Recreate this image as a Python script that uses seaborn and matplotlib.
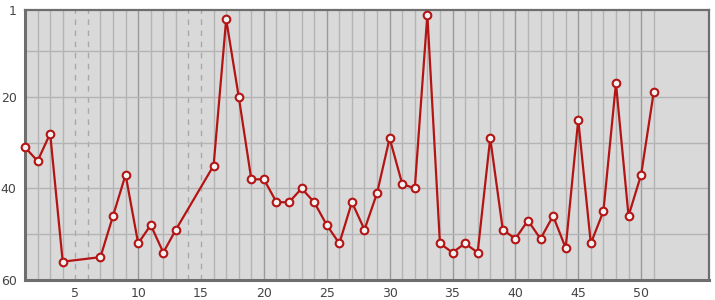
import matplotlib
matplotlib.use("Agg")
import matplotlib.pyplot as plt
import seaborn as sns
import pandas as pd
import numpy as np

# --- data ---
rounds = [1, 2, 3, 4, 7, 8, 9, 10, 11, 12, 13, 16, 17, 18, 19, 20, 21, 22, 23, 24,
          25, 26, 27, 28, 29, 30, 31, 32, 33, 34, 35, 36, 37, 38, 39, 40, 41, 42,
          43, 44, 45, 46, 47, 48, 49, 50, 51]
positions = [31, 34, 28, 56, 55, 46, 37, 52, 48, 54, 49, 35, 3, 20, 38, 38, 43, 43,
             40, 43, 48, 52, 43, 49, 41, 29, 39, 40, 2, 52, 54, 52, 54, 29, 49, 51,
             47, 51, 46, 53, 25, 52, 45, 17, 46, 37, 19]
missing_rounds = [5, 6, 14, 15]
x_ticks = [5, 10, 15, 20, 25, 30, 35, 40, 45, 50]
y_ticks = [1, 20, 40, 60]
y_grid = [10, 20, 30, 40, 50]

df = pd.DataFrame({"round": rounds, "pos": positions})

sns.set_theme(style="white")
plt.rcParams["font.family"] = ["DejaVu Sans"]

fig = plt.figure(figsize=(7.15, 3.0), dpi=100)
ax = fig.add_axes([25 / 715, 20 / 300, 684 / 715, 270 / 300])
ax.set_facecolor("#d9d9d9")

# grid
for i in range(2, 52):
    if i in missing_rounds:
        ax.axvline(i, color="#a8a8a8", lw=1, ls=(0, (4, 4)), zorder=1)
    elif i % 5 == 0:
        ax.axvline(i, color="#9a9a9a", lw=1, zorder=1)
    else:
        ax.axvline(i, color="#b4b4b4", lw=1, zorder=1)
for g in y_grid:
    ax.axhline(g, color="#b4b4b4", lw=1, zorder=1)

sns.lineplot(data=df, x="round", y="pos", ax=ax, color="#b41414", lw=1.6,
             marker="o", markersize=5.5, markerfacecolor="#f2f2f2",
             markeredgecolor="#b41414", markeredgewidth=1.5, zorder=6,
             clip_on=False)

ax.set_xlim(1, 55.4)
ax.set_ylim(60, 1)
ax.set_xticks(x_ticks)
ax.set_yticks(y_ticks)
ax.set_xlabel("")
ax.set_ylabel("")
ax.tick_params(axis="both", length=0, labelsize=9, labelcolor="#444444")
ax.tick_params(axis="x", pad=5)
ax.tick_params(axis="y", pad=6)

for side, sp in ax.spines.items():
    sp.set_visible(True)
    sp.set_color("#6e6e6e")
    sp.set_linewidth(1.6)
    sp.set_zorder(5)
ax.spines["left"].set_linewidth(2.2)
ax.spines["bottom"].set_linewidth(2.2)

fig.savefig("out.png", dpi=100)
